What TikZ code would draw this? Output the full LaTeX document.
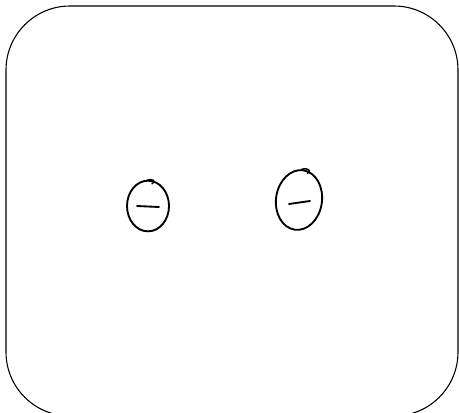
\documentclass[tikz,border=0pt]{standalone}
\usetikzlibrary{shapes.geometric}
\tikzset{
  frame/.style={draw, line width=0.8pt, rounded corners=48pt},
  eyenode/.style={draw, ellipse, line width=1.4pt, inner sep=0pt},
  dashline/.style={line width=1.4pt, line cap=round}
}

\begin{document}
\begin{tikzpicture}[x=0.75pt, y=0.75pt]
      \clip (0,0) rectangle (459,412);
      \useasboundingbox (0,0) rectangle (459,412);
      \draw[frame] (6,-4) rectangle (458,406);
      % two eyes with a dash each
      \node[eyenode, minimum width=31.5pt, minimum height=38pt] (lefteye) at (148,206) {};
      \node[eyenode, minimum width=34.5pt, minimum height=45pt, rotate=-8] (righteye) at (299,212) {};
      \draw[dashline] ([shift={(-11,0)}]lefteye.center) -- ([shift={(11,-1)}]lefteye.center);
      \draw[dashline] ([shift={(-10,-4)}]righteye.center) -- ([shift={(11,-1)}]righteye.center);
      % little hooks at the top
      \draw[dashline, line width=1.1pt] ([shift={(-2,-1)}]lefteye.north) .. controls ([shift={(6,2)}]lefteye.north) and ([shift={(8,-2)}]lefteye.north) .. ([shift={(4,-4)}]lefteye.north);
      \draw[dashline, line width=1.1pt] ([shift={(-2,0)}]righteye.north) .. controls ([shift={(6,2)}]righteye.north) and ([shift={(8,-2)}]righteye.north) .. ([shift={(4,-4)}]righteye.north);
    \end{tikzpicture}
\end{document}
